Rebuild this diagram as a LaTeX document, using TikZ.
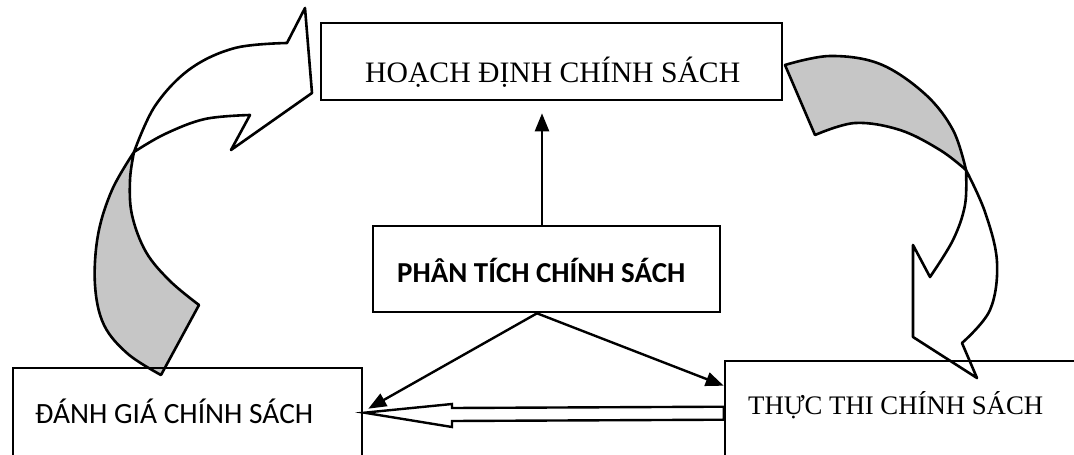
\documentclass[tikz,border=0pt]{standalone}
\usepackage{fontspec}
\usepackage{graphicx}
\setmainfont{Liberation Serif}
\newfontfamily\carlito{Carlito}
\usetikzlibrary{arrows.meta,calc}
\begin{document}
\begin{tikzpicture}[x=1pt,y=-1pt,
  box/.style={draw,line width=2.6pt,inner sep=0pt},
  lbl/.style={anchor=base west,inner sep=0pt},
  conn/.style={line width=2.4pt,-{Triangle[length=18pt,width=14pt]}},
  band/.style={draw,line width=2.6pt,line join=round},
  back/.style={band,fill=gray!45},
  front/.style={band,fill=white}]
\useasboundingbox (0,0) rectangle (1074,455);
\clip (0,0) rectangle (1074,455);
\fill[white] (0,0) rectangle (1074,455);

% left curved arrow: shaded back of the band, then the white front with its head
\path[back] (134,152) -- plot[smooth,tension=0.6] coordinates {(134,152)(112,190)(98,235)(95,285)(104,325)(128,354)(161,375)}
  -- (199,305) -- plot[smooth,tension=0.6] coordinates {(199,305)(170,281)(146,252)(132,215)(130,180)(134,152)} -- cycle;
\path[front] (134,152) -- plot[smooth,tension=0.6] coordinates {(134,152)(155,106)(190,69)(235,48)(287,43)}
  -- (305,8) -- (312,93) -- (231,150) -- (250,115)
  -- plot[smooth,tension=0.6] coordinates {(250,115)(205,119)(165,134)(134,152)} -- cycle;

% right curved arrow
\path[back] (785,65) -- plot[smooth,tension=0.6] coordinates {(785,65)(830,56)(880,64)(925,94)(953,130)(966,170)}
  -- plot[smooth,tension=0.6] coordinates {(966,170)(940,150)(900,130)(855,123)(815,135)} -- cycle;
\path[front] (966,170) -- plot[smooth,tension=0.6] coordinates {(966,170)(985,212)(997,262)(990,310)(962,343)}
  -- (977,378) -- (913,337) -- (913,245) -- (930,277)
  -- plot[smooth,tension=0.6] coordinates {(930,277)(953,240)(965,205)(966,170)} -- cycle;

% boxes
\node[box,minimum width=461pt,minimum height=77pt] (plan) at (551.5,61.5) {};
\node[box,minimum width=347pt,minimum height=86pt] (anal) at (546.5,269) {};
\node[box,minimum width=349pt,minimum height=112pt] (eval) at (187.5,424) {};
\node[box,minimum width=375pt,minimum height=119pt] (impl) at (912.5,420.5) {};

% box texts
\node[lbl] (planT) at (365,82) {\resizebox{375pt}{!}{HOẠCH ĐỊNH CHÍNH SÁCH}};
\node[lbl] (analT) at (397,282) {\resizebox{288pt}{!}{\carlito\bfseries PHÂN TÍCH CHÍNH SÁCH}};
\node[lbl] (evalT) at (35,423) {\resizebox{278pt}{!}{\carlito ĐÁNH GIÁ CHÍNH SÁCH}};
\node[lbl] (implT) at (748,414) {\resizebox{295pt}{!}{THỰC THI CHÍNH SÁCH}};

% connectors
\coordinate (vx) at (542,0);
\coordinate (ax) at (537,0);
\draw[conn,shorten >=12pt] (anal.north -| vx) -- (plan.south -| vx);
\draw[conn] (anal.south -| ax) -- ($(eval.north east)+(5,42)$);
\draw[conn] (anal.south -| ax) -- ($(impl.north west)+(0,26)$);

% hollow arrow from implementation back to evaluation
\draw[line width=2.4pt,line join=miter,fill=white]
  ($(eval.north east)+(1,46)$) -- (452,404) -- (452,408) -- ($(impl.north west)+(0,47)$)
  -- ($(impl.north west)+(0,60)$) -- (452,421) -- (452,427) -- cycle;
\end{tikzpicture}
\end{document}
